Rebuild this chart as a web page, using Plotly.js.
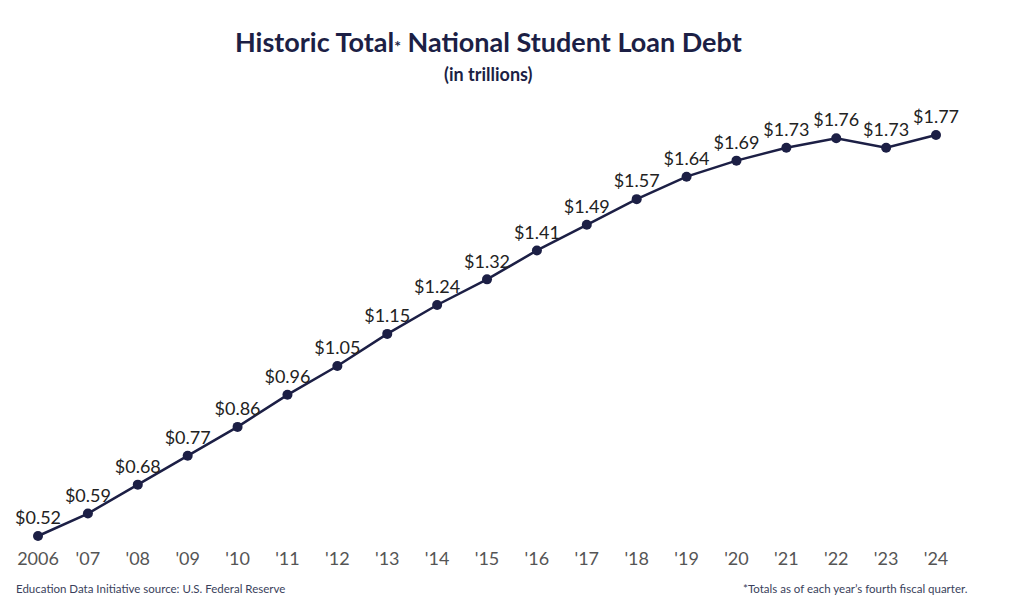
<!DOCTYPE html>
<html>
<head>
<meta charset="utf-8">
<script src="https://cdn.plot.ly/plotly-3.0.1.min.js"></script>
<style>
html,body{margin:0;padding:0;background:#fff;}
#chart{width:1010px;height:602px;}
</style>
</head>
<body>
<div id="chart"></div>
<script>
const years = ["2006","'07","'08","'09","'10","'11","'12","'13","'14","'15","'16","'17","'18","'19","'20","'21","'22","'23","'24"];
const debt = [0.52,0.59,0.68,0.77,0.86,0.96,1.05,1.15,1.24,1.32,1.41,1.49,1.57,1.64,1.69,1.73,1.76,1.73,1.77];
const labels = debt.map(v => "$" + v.toFixed(2));

const navy = "#1c1f45";
const FONT = "Lato, 'Noto Sans', sans-serif";

const trace = {
  x: years,
  y: debt,
  type: "scatter",
  mode: "lines+markers+text",
  text: labels,
  textposition: "top center",
  textfont: {family: FONT, size: 18, color: "#222222"},
  line: {color: navy, width: 2.5},
  marker: {color: navy, size: 10},
  hoverinfo: "skip",
  cliponaxis: false
};

const layout = {
  width: 1010,
  height: 602,
  paper_bgcolor: "#ffffff",
  plot_bgcolor: "#ffffff",
  margin: {l: 0, r: 0, t: 90, b: 57},
  showlegend: false,
  font: {family: FONT},
  xaxis: {
    type: "category",
    range: [-0.762, 19.483],
    showgrid: false, zeroline: false, showline: false,
    ticks: "",
    tickfont: {family: FONT, size: 18, color: "#555555"},
    ticklabelstandoff: 1,
    fixedrange: true
  },
  yaxis: {
    range: [0.4919, 1.9102],
    showgrid: false, zeroline: false, showline: false,
    showticklabels: false, ticks: "",
    fixedrange: true
  },
  annotations: [
    {text: "<b>Historic Total<span style='font-size:16px'>*</span> National Student Loan Debt</b>", xref: "paper", yref: "paper",
     x: 488/1010, y: 1, yshift: 49, xanchor: "center", yanchor: "middle", showarrow: false,
     font: {family: FONT, size: 27, color: navy}},
    {text: "<b>(in trillions)</b>", xref: "paper", yref: "paper",
     x: 488/1010, y: 1, yshift: 16, xanchor: "center", yanchor: "middle", showarrow: false,
     font: {family: FONT, size: 18, color: navy}},
    {text: "Education Data Initiative source: U.S. Federal Reserve", xref: "paper", yref: "paper",
     x: 14/1010, y: 0, yshift: -43, xanchor: "left", yanchor: "middle", showarrow: false,
     font: {family: FONT, size: 11.5, color: "#3a3f5c"}},
    {text: "*Totals as of each year’s fourth fiscal quarter.", xref: "paper", yref: "paper",
     x: 970/1010, y: 0, yshift: -43, xanchor: "right", yanchor: "middle", showarrow: false,
     font: {family: FONT, size: 11.5, color: "#3a3f5c"}}
  ]
};

Plotly.newPlot("chart", [trace], layout, {displayModeBar: false, staticPlot: true});
</script>
</body>
</html>
